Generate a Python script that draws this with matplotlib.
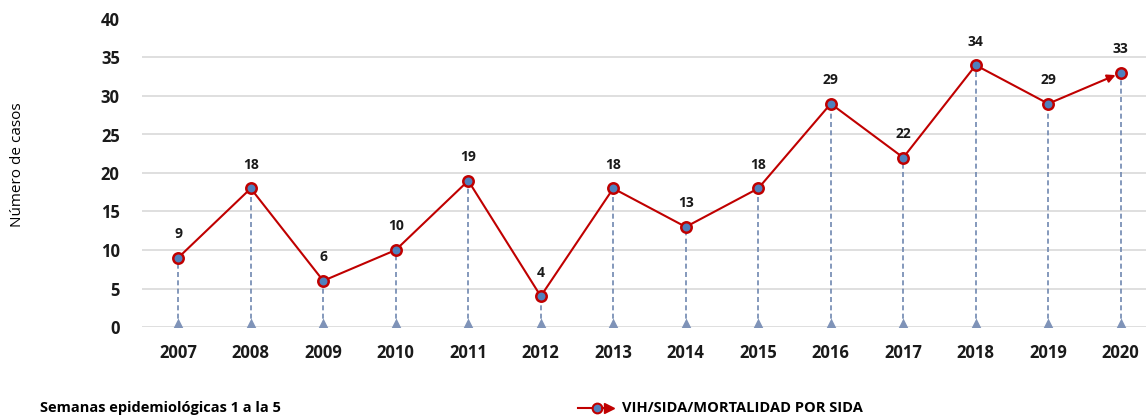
import matplotlib
matplotlib.use("Agg")
import matplotlib.pyplot as plt
from matplotlib.lines import Line2D

years = ["2007", "2008", "2009", "2010", "2011", "2012", "2013", "2014",
         "2015", "2016", "2017", "2018", "2019", "2020"]
values = [9, 18, 6, 10, 19, 4, 18, 13, 18, 29, 22, 34, 29, 33]
yticks = [0, 5, 10, 15, 20, 25, 30, 35, 40]
series_name = "VIH/SIDA/MORTALIDAD POR SIDA"
ylabel = "Número de casos"
note = "Semanas epidemiológicas 1 a la 5"

plt.rcParams['font.family'] = ['Open Sans', 'DejaVu Sans']

W, H = 1146, 415
fig = plt.figure(figsize=(W / 100, H / 100), dpi=100)
ax_left, ax_right = 142, 1157
ax_top, ax_bot = 19, 327
ax = fig.add_axes([ax_left / W, 1 - ax_bot / H, (ax_right - ax_left) / W, (ax_bot - ax_top) / H])
ax.set_xlim(-0.5, len(years) - 0.5)
ax.set_ylim(0, 40)

x = list(range(len(years)))
red = "#c00000"
blue = "#4f81bd"
drop = "#7088b0"

for yv in yticks[1:-1]:
    ax.axhline(yv, color="#d9d9d9", lw=1.2, zorder=0)
ax.axhline(0, color="#d9d9d9", lw=1.2, zorder=0)

# drop lines
for xi, v in zip(x, values):
    ax.plot([xi, xi], [0, v], color=drop, lw=1.2, ls=(0, (3, 2)), zorder=1)
ax.plot(x, [0] * len(x), ls="none", marker="^", ms=13, color="#7f93b8",
        markeredgecolor="none", zorder=2, clip_on=True)

# main line
ax.plot(x[:-1], values[:-1], color=red, lw=1.5, zorder=3)
ax.annotate("", xy=(x[-1], values[-1]), xytext=(x[-2], values[-2]),
            arrowprops=dict(arrowstyle="-|>", color=red, lw=1.5,
                            mutation_scale=12, shrinkA=0, shrinkB=4), zorder=3)
ax.plot(x, values, ls="none", marker="o", ms=7.5, markerfacecolor=blue,
        markeredgecolor=red, markeredgewidth=1.8, zorder=4)

for xi, v in zip(x, values):
    ax.annotate(str(v), (xi, v), xytext=(0, 12), textcoords="offset points",
                ha="center", va="bottom", fontsize=10, fontweight="bold", color="#1a1a1a")

ax.set_xticks(x)
ax.set_xticklabels(years, fontsize=12, fontweight="bold")
ax.set_yticks(yticks)
ax.set_yticklabels([str(t) for t in yticks], fontsize=12, fontweight="bold")
ax.tick_params(axis="both", length=0, colors="#1a1a1a")
ax.tick_params(axis="x", pad=12)
ax.tick_params(axis="y", pad=16)
for s in ax.spines.values():
    s.set_visible(False)

fig.text(18 / W, 1 - 165 / H, ylabel, rotation=90, ha="center", va="center", fontsize=11)
fig.text(40 / W, 1 - 408 / H, note, ha="left", va="center", fontsize=10.5, fontweight="bold")

# legend (line, marker, arrowhead)
ly = H - 408
fig.add_artist(Line2D([578 / W, 600 / W], [ly / H, ly / H], color=red, lw=1.5,
                      transform=fig.transFigure))
fig.add_artist(Line2D([597 / W], [ly / H], ls="none", marker="o", ms=7, markerfacecolor=blue,
                      markeredgecolor=red, markeredgewidth=1.5, transform=fig.transFigure))
fig.add_artist(Line2D([609 / W], [ly / H], ls="none", marker=">", ms=7, color=red,
                      transform=fig.transFigure))
fig.add_artist(Line2D([602 / W, 610 / W], [ly / H, ly / H], color=red, lw=1.5,
                      transform=fig.transFigure))
fig.text(622 / W, ly / H, series_name, ha="left", va="center", fontsize=10.5, fontweight="bold")

fig.savefig("out.png", dpi=100)
